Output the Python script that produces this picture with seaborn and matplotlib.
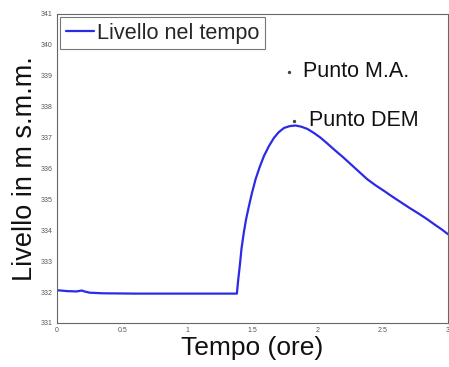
import matplotlib
matplotlib.use('Agg')
import matplotlib.pyplot as plt
import seaborn as sns

# Livello nel tempo
tempo = [0.0, 0.08, 0.15, 0.19, 0.21, 0.25, 0.35, 0.6, 1.0, 1.38, 1.383,
         1.39, 1.402, 1.415, 1.433, 1.45, 1.472, 1.495, 1.523, 1.555, 1.587,
         1.625, 1.664, 1.70, 1.741, 1.785, 1.83, 1.875, 1.92, 1.97, 2.02,
         2.07, 2.126, 2.19, 2.25, 2.315, 2.38, 2.445, 2.51, 2.575, 2.64,
         2.705, 2.77, 2.835, 2.895, 2.95, 3.0]
livello = [332.06, 332.03, 332.02, 332.05, 332.02, 331.98, 331.96, 331.95,
           331.95, 331.95, 332.1, 332.4, 332.85, 333.4, 333.93, 334.35,
           334.78, 335.2, 335.65, 336.05, 336.4, 336.72, 336.99, 337.17,
           337.31, 337.37, 337.39, 337.35, 337.28, 337.15, 337.0, 336.82,
           336.61, 336.38, 336.15, 335.9, 335.65, 335.45, 335.27, 335.08,
           334.9, 334.72, 334.55, 334.37, 334.19, 334.03, 333.87]

punti_t = [1.78, 1.82]
punti_y = [339.13, 337.55]
punti_lab = ['Punto M.A.', 'Punto DEM']

yticks = [331, 332, 333, 334, 335, 336, 337, 338, 339, 340, 341]
xticks = [0, 0.5, 1, 1.5, 2, 2.5, 3]

sns.set_style('white')
plt.rcParams['font.family'] = ['Liberation Sans', 'DejaVu Sans']

fig = plt.figure(figsize=(4.49, 3.67), dpi=100)
ax = fig.add_axes([0.127, 0.12, 0.871, 0.842])

sns.lineplot(x=tempo, y=livello, color='#2b2be6', linewidth=1.6,
             label='Livello nel tempo', ax=ax, sort=False)
ax.scatter(punti_t, punti_y, s=2, color='#444444', zorder=3)
for t, y, lab in zip(punti_t, punti_y, punti_lab):
    ax.text(t + 0.11, y, lab, fontsize=15.5, va='center', ha='left', color='#111111')

ax.set_xlim(0, 3)
ax.set_ylim(331, 341)
ax.set_xticks(xticks)
ax.set_xticklabels(['0', '0.5', '1', '1.5', '2', '2.5', '3'])
ax.set_yticks(yticks)
ax.tick_params(axis='both', labelsize=5, colors='#555555', direction='in',
               length=3, width=0.6, pad=3)
for s in ax.spines.values():
    s.set_color('#666666')
    s.set_linewidth(0.8)

ax.set_xlabel('Tempo (ore)', fontsize=19, color='#111111', labelpad=1)
ax.set_ylabel('Livello in m s.m.m.', fontsize=19.5, color='#111111', labelpad=2)

leg = ax.legend(loc='upper left', fontsize=15.6, frameon=True, fancybox=False,
                borderaxespad=0.15, handlelength=1.3, handletextpad=0.15,
                borderpad=0.25)
leg.get_frame().set_edgecolor('#555555')
leg.get_frame().set_linewidth(0.8)

plt.savefig('out.png', dpi=100)
